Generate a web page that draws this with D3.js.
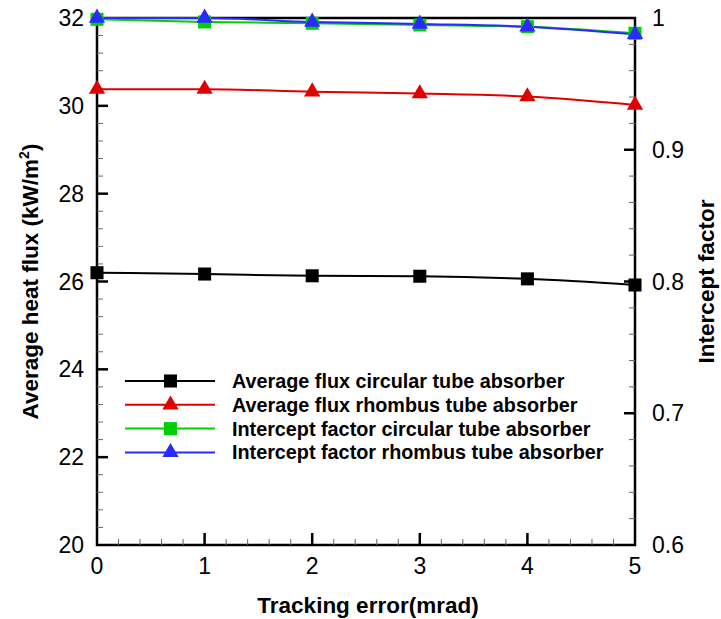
<!DOCTYPE html>
<html>
<head>
<meta charset="utf-8">
<script src="https://cdn.jsdelivr.net/npm/d3@7"></script>
<style>
  html, body { margin: 0; padding: 0; background: #fff; }
  svg { display: block; font-family: "Liberation Sans", Arial, sans-serif; }
</style>
</head>
<body>
<svg id="chart" width="721" height="619"></svg>
<script>
// Tracking error (mrad)
const trackingError = [0, 1, 2, 3, 4, 5];
// Average heat flux, kW/m² (left axis)
const fluxCircular = [26.20, 26.17, 26.13, 26.12, 26.06, 25.92];
const fluxRhombus  = [30.38, 30.38, 30.32, 30.28, 30.21, 30.02];
// Intercept factor (right axis)
const interceptCircular = [0.999, 0.997, 0.996, 0.9947, 0.9934, 0.9884];
const interceptRhombus  = [1.000, 1.000, 0.997, 0.9955, 0.9934, 0.9876];

const leftTicks = [20, 22, 24, 26, 28, 30, 32];
const rightTicks = [0.6, 0.7, 0.8, 0.9, 1];
const xTicks = [0, 1, 2, 3, 4, 5];

const series = [
  { name: "Average flux circular tube absorber", values: fluxCircular, axis: "left", color: "#000000", marker: "square" },
  { name: "Average flux rhombus tube absorber", values: fluxRhombus, axis: "left", color: "#e00000", marker: "triangle" },
  { name: "Intercept factor circular tube absorber", values: interceptCircular, axis: "right", color: "#00d000", marker: "square" },
  { name: "Intercept factor rhombus tube absorber", values: interceptRhombus, axis: "right", color: "#2a2aff", marker: "triangle" }
];

const svg = d3.select("#chart");
const plot = { left: 97, right: 635, top: 18, bottom: 545 };

const x = d3.scaleLinear().domain([0, 5]).range([plot.left, plot.right]);
const yL = d3.scaleLinear().domain([20, 32]).range([plot.bottom, plot.top]);
const yR = d3.scaleLinear().domain([0.6, 1]).range([plot.bottom, plot.top]);

// Frame
svg.append("rect")
  .attr("x", plot.left).attr("y", plot.top)
  .attr("width", plot.right - plot.left).attr("height", plot.bottom - plot.top)
  .attr("fill", "none").attr("stroke", "#000").attr("stroke-width", 2.5);

// Minor and major ticks, all pointing into the plot
const minorX = d3.range(0, 5.0001, 0.2).filter(v => Math.abs(v - Math.round(v)) > 1e-6);
const minorL = d3.range(20, 32.0001, 0.4).filter(v => Math.abs(v / 2 - Math.round(v / 2)) > 1e-6);
const minorR = d3.range(0.6, 1.0001, 0.02).filter(v => Math.abs(v * 10 - Math.round(v * 10)) > 1e-6);

const ticks = svg.append("g").attr("stroke", "#000");
ticks.selectAll(".mx").data(minorX).join("line")
  .attr("x1", d => x(d)).attr("x2", d => x(d))
  .attr("y1", plot.bottom).attr("y2", plot.bottom - 6).attr("stroke-width", 1).attr("stroke", "#666");
ticks.selectAll(".Mx").data(xTicks.slice(1, -1)).join("line")
  .attr("x1", d => x(d)).attr("x2", d => x(d))
  .attr("y1", plot.bottom).attr("y2", plot.bottom - 12).attr("stroke-width", 2.5);
ticks.selectAll(".ml").data(minorL).join("line")
  .attr("y1", d => yL(d)).attr("y2", d => yL(d))
  .attr("x1", plot.left).attr("x2", plot.left + 6).attr("stroke-width", 1).attr("stroke", "#666");
ticks.selectAll(".Ml").data(leftTicks.slice(1, -1)).join("line")
  .attr("y1", d => yL(d)).attr("y2", d => yL(d))
  .attr("x1", plot.left).attr("x2", plot.left + 11).attr("stroke-width", 2.5);
ticks.selectAll(".mr").data(minorR).join("line")
  .attr("y1", d => yR(d)).attr("y2", d => yR(d))
  .attr("x1", plot.right).attr("x2", plot.right - 6).attr("stroke-width", 1).attr("stroke", "#666");
ticks.selectAll(".Mr").data(rightTicks.slice(1, -1)).join("line")
  .attr("y1", d => yR(d)).attr("y2", d => yR(d))
  .attr("x1", plot.right).attr("x2", plot.right - 11).attr("stroke-width", 2.5);

// Tick labels
const tickFont = 23;
svg.append("g").selectAll("text").data(xTicks).join("text")
  .attr("x", d => x(d)).attr("y", plot.bottom + 29)
  .attr("text-anchor", "middle").attr("font-size", tickFont).text(d => d);
svg.append("g").selectAll("text").data(leftTicks).join("text")
  .attr("x", plot.left - 13).attr("y", d => yL(d) + 8)
  .attr("text-anchor", "end").attr("font-size", tickFont).text(d => d);
svg.append("g").selectAll("text").data(rightTicks).join("text")
  .attr("x", plot.right + 17).attr("y", d => yR(d) + 8)
  .attr("text-anchor", "start").attr("font-size", tickFont).text(d => d);

// Axis titles
const titleFont = 22.5;
svg.append("text")
  .attr("x", 368).attr("y", 613)
  .attr("text-anchor", "middle").attr("font-size", titleFont).attr("font-weight", "bold")
  .text("Tracking error(mrad)");
const yTitle = svg.append("text")
  .attr("transform", `translate(38, ${(plot.top + plot.bottom) / 2}) rotate(-90)`)
  .attr("text-anchor", "middle").attr("font-size", titleFont).attr("font-weight", "bold");
yTitle.append("tspan").text("Average heat flux (kW/m");
yTitle.append("tspan").attr("font-size", 14).attr("dy", -9).text("2");
yTitle.append("tspan").attr("dy", 9).text(")");
svg.append("text")
  .attr("transform", `translate(714, ${(plot.top + plot.bottom) / 2}) rotate(-90)`)
  .attr("text-anchor", "middle").attr("font-size", titleFont).attr("font-weight", "bold")
  .text("Intercept factor");

// Marker shapes
const squareSym = d3.symbol().type(d3.symbolSquare).size(170);
const triangleSym = d3.symbol().type(d3.symbolTriangle).size(115);
function markerPath(kind) { return kind === "square" ? squareSym() : triangleSym(); }

// Series lines, then markers on top
series.forEach(s => {
  const yS = s.axis === "left" ? yL : yR;
  const line = d3.line().x((d, i) => x(trackingError[i])).y(d => yS(d)).curve(d3.curveMonotoneX);
  svg.append("path").datum(s.values)
    .attr("d", line).attr("fill", "none").attr("stroke", s.color).attr("stroke-width", 2);
});
series.forEach(s => {
  const yS = s.axis === "left" ? yL : yR;
  svg.append("g").selectAll("path").data(s.values).join("path")
    .attr("transform", (d, i) => `translate(${x(trackingError[i])},${yS(d)})`)
    .attr("d", markerPath(s.marker)).attr("fill", s.color);
});

// Legend
const legend = svg.append("g");
const legendY0 = 381, legendDy = 23.8;
series.forEach((s, i) => {
  const ly = legendY0 + i * legendDy;
  legend.append("line").attr("x1", 125).attr("x2", 215).attr("y1", ly).attr("y2", ly)
    .attr("stroke", s.color).attr("stroke-width", 2);
  legend.append("path").attr("transform", `translate(170.5,${ly})`)
    .attr("d", markerPath(s.marker)).attr("fill", s.color);
  legend.append("text").attr("x", 232).attr("y", ly + 7)
    .attr("font-size", 19.8).attr("font-weight", "bold").text(s.name);
});
</script>
</body>
</html>
